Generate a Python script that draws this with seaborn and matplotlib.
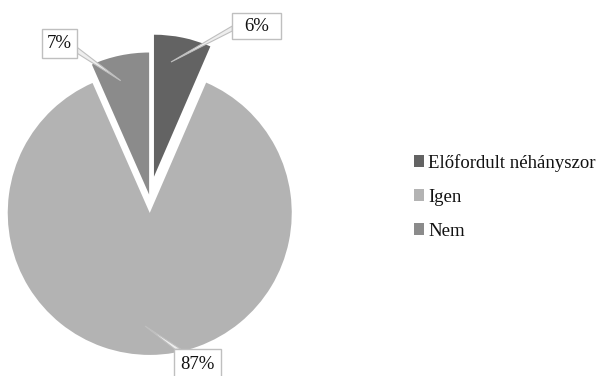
import matplotlib
matplotlib.use("Agg")
import matplotlib.pyplot as plt
from matplotlib.patches import Rectangle, Polygon
import seaborn as sns

# ---- data ----
categories = ["Előfordult néhányszor", "Igen", "Nem"]
values = [6.5, 86.9, 6.6]
labels = ["6%", "87%", "7%"]
colors = ["#636363", "#b3b3b3", "#8b8b8b"]
explode = [0.148, 0.11, 0.02]

sns.set_theme(style="white")
plt.rcParams["font.family"] = ["Liberation Serif", "DejaVu Serif"]

W, H = 597, 376
R = 142.0              # pie radius in pixels
CX, CY = 149.7, 197.3  # pie centre in pixels (from top-left)

fig = plt.figure(figsize=(W / 100, H / 100), dpi=100)
ax = fig.add_axes([0, 0, 1, 1])

def px(x, y):
    return ((x - CX) / R, (CY - y) / R)

wedges, _ = ax.pie(values, colors=colors, startangle=90, counterclock=False,
                   explode=explode, radius=1, center=(0, 0),
                   wedgeprops=dict(edgecolor="none", linewidth=0))

x0, y0 = px(0, H)
x1, y1 = px(W, 0)
ax.set_xlim(x0, x1)
ax.set_ylim(y0, y1)
ax.set_aspect("auto")
ax.axis("off")

FS = 13.5
edge = "#bfbfbf"

# label boxes (pixel rectangles) and leader lines
boxes = {
    "6%": (232.3, 13.3, 281.0, 39.0),
    "87%": (174.0, 349.3, 220.7, 379.0),
    "7%": (41.7, 29.0, 76.7, 58.3),
}
leaders = {
    "6%": [(171.0, 62.0), (232.3, 26.0), (232.3, 31.0)],
    "87%": [(145.0, 326.0), (175.0, 349.3), (181.0, 349.3)],
    "7%": [(120.7, 80.7), (76.7, 47.0), (76.7, 53.0)],
}
for lab in labels:
    pts = [px(*p) for p in leaders[lab]]
    ax.add_patch(Polygon(pts, closed=True, facecolor="#eeeeee", edgecolor=edge,
                         linewidth=0.8, zorder=3))
    l, t, r, b = boxes[lab]
    (bx0, by0), (bx1, by1) = px(l, b), px(r, t)
    ax.add_patch(Rectangle((bx0, by0), bx1 - bx0, by1 - by0, facecolor="white",
                           edgecolor=edge, linewidth=1.0, zorder=4))
    ax.text((bx0 + bx1) / 2, (by0 + by1) / 2, lab, ha="center", va="center",
            fontsize=FS, color="#111111", zorder=5)

leg = ax.legend(wedges, categories, loc="center left",
                bbox_to_anchor=(414 / W, 1 - 196.7 / H),
                bbox_transform=fig.transFigure, frameon=False,
                fontsize=FS, handlelength=0.55, handleheight=0.55,
                handletextpad=0.2, labelspacing=0.9, borderpad=0,
                borderaxespad=0)
for t in leg.get_texts():
    t.set_color("#111111")

fig.savefig("out.png", dpi=100, facecolor="white")
